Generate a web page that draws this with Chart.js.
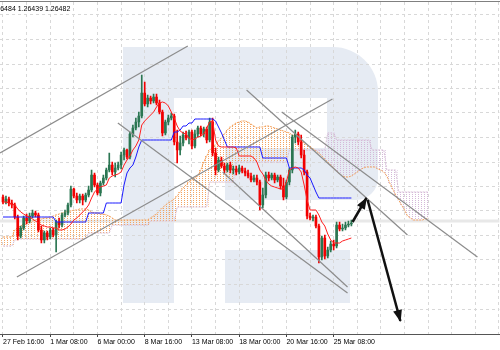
<!DOCTYPE html>
<html>
<head>
<meta charset="utf-8">
<script src="https://cdn.jsdelivr.net/npm/chart.js@4.4.0/dist/chart.umd.min.js"></script>
<style>
  html, body { margin: 0; padding: 0; background: #fff; }
</style>
</head>
<body>
<canvas id="chart" width="500" height="350"></canvas>
<script>
// H4 candles, index 0 = 27 Feb 16:00
const openP = [
  1.2674, 1.2669, 1.2672, 1.2668, 1.2666, 1.2654, 1.2635, 1.2643, 1.2653, 1.2650,
  1.2655, 1.2658, 1.2656, 1.2641, 1.2631, 1.2638, 1.2634, 1.2641, 1.2636, 1.2649,
  1.2646, 1.2656, 1.2658, 1.2666, 1.2682, 1.2675, 1.2671, 1.2675, 1.2671, 1.2676,
  1.2681, 1.2696, 1.2686, 1.2678, 1.2688, 1.2693, 1.2701, 1.2706, 1.2699, 1.2703,
  1.2706, 1.2716, 1.2721, 1.2714, 1.2737, 1.2743, 1.2749, 1.2755, 1.2778, 1.2767,
  1.2773, 1.2770, 1.2774, 1.2768, 1.2759, 1.2738, 1.2749, 1.2753, 1.2755, 1.2729,
  1.2721, 1.2728, 1.2736, 1.2733, 1.2739, 1.2725, 1.2737, 1.2743, 1.2737, 1.2742,
  1.2731, 1.2749, 1.2718, 1.2701, 1.2711, 1.2705, 1.2701, 1.2706, 1.2701, 1.2702,
  1.2699, 1.2703, 1.2700, 1.2698, 1.2695, 1.2691, 1.2693, 1.2689, 1.2666, 1.2676,
  1.2696, 1.2693, 1.2696, 1.2691, 1.2694, 1.2685, 1.2674, 1.2689, 1.2701, 1.2734,
  1.2737, 1.2729, 1.2716, 1.2699, 1.2655, 1.2653, 1.2654, 1.2645, 1.2614, 1.2633,
  1.2615, 1.2621, 1.2627, 1.2625, 1.2646, 1.2642, 1.2643, 1.2646, 1.2647
];
const highP = [
  1.2676, 1.2675, 1.2674, 1.2671, 1.2668, 1.2656, 1.2645, 1.2655, 1.2657, 1.2658,
  1.2661, 1.2660, 1.2658, 1.2645, 1.2640, 1.2640, 1.2643, 1.2643, 1.2651, 1.2653,
  1.2658, 1.2661, 1.2668, 1.2685, 1.2683, 1.2678, 1.2677, 1.2677, 1.2678, 1.2685,
  1.2701, 1.2698, 1.2688, 1.2690, 1.2696, 1.2703, 1.2718, 1.2709, 1.2708, 1.2709,
  1.2719, 1.2723, 1.2722, 1.2739, 1.2746, 1.2753, 1.2759, 1.2796, 1.2789, 1.2776,
  1.2775, 1.2777, 1.2777, 1.2771, 1.2761, 1.2751, 1.2756, 1.2758, 1.2757, 1.2741,
  1.2735, 1.2739, 1.2740, 1.2741, 1.2741, 1.2741, 1.2745, 1.2745, 1.2744, 1.2744,
  1.2753, 1.2753, 1.2723, 1.2714, 1.2714, 1.2708, 1.2708, 1.2709, 1.2705, 1.2705,
  1.2706, 1.2705, 1.2703, 1.2701, 1.2698, 1.2696, 1.2696, 1.2691, 1.2683, 1.2699,
  1.2699, 1.2698, 1.2698, 1.2696, 1.2696, 1.2693, 1.2691, 1.2703, 1.2736, 1.2741,
  1.2739, 1.2736, 1.2721, 1.2701, 1.2658, 1.2656, 1.2656, 1.2647, 1.2635, 1.2636,
  1.2624, 1.2630, 1.2631, 1.2649, 1.2649, 1.2647, 1.2649, 1.2650, 1.2651
];
const lowP = [
  1.2667, 1.2667, 1.2665, 1.2663, 1.2652, 1.2631, 1.2633, 1.2641, 1.2647, 1.2648,
  1.2653, 1.2654, 1.2639, 1.2628, 1.2628, 1.2631, 1.2632, 1.2634, 1.2619, 1.2643,
  1.2644, 1.2654, 1.2656, 1.2664, 1.2673, 1.2668, 1.2668, 1.2666, 1.2669, 1.2674,
  1.2679, 1.2684, 1.2676, 1.2675, 1.2686, 1.2691, 1.2699, 1.2696, 1.2694, 1.2701,
  1.2702, 1.2711, 1.2712, 1.2712, 1.2734, 1.2741, 1.2744, 1.2753, 1.2765, 1.2764,
  1.2767, 1.2768, 1.2766, 1.2757, 1.2735, 1.2736, 1.2746, 1.2751, 1.2726, 1.2708,
  1.2716, 1.2725, 1.2731, 1.2727, 1.2722, 1.2723, 1.2734, 1.2735, 1.2734, 1.2728,
  1.2729, 1.2715, 1.2696, 1.2699, 1.2703, 1.2698, 1.2699, 1.2698, 1.2697, 1.2696,
  1.2697, 1.2698, 1.2695, 1.2693, 1.2689, 1.2689, 1.2686, 1.2661, 1.2663, 1.2673,
  1.2690, 1.2691, 1.2688, 1.2689, 1.2682, 1.2671, 1.2672, 1.2686, 1.2698, 1.2728,
  1.2726, 1.2713, 1.2696, 1.2652, 1.2651, 1.2650, 1.2643, 1.2608, 1.2611, 1.2612,
  1.2613, 1.2619, 1.2621, 1.2623, 1.2640, 1.2640, 1.2641, 1.2644, 1.2645
];
const closeP = [
  1.2669, 1.2672, 1.2668, 1.2666, 1.2654, 1.2635, 1.2643, 1.2653, 1.2650, 1.2655,
  1.2658, 1.2656, 1.2641, 1.2631, 1.2638, 1.2634, 1.2641, 1.2636, 1.2649, 1.2646,
  1.2656, 1.2658, 1.2666, 1.2682, 1.2675, 1.2671, 1.2675, 1.2671, 1.2676, 1.2681,
  1.2696, 1.2686, 1.2678, 1.2688, 1.2693, 1.2701, 1.2706, 1.2699, 1.2703, 1.2706,
  1.2716, 1.2721, 1.2714, 1.2737, 1.2743, 1.2749, 1.2755, 1.2778, 1.2767, 1.2773,
  1.2770, 1.2774, 1.2768, 1.2759, 1.2738, 1.2749, 1.2753, 1.2755, 1.2729, 1.2721,
  1.2728, 1.2736, 1.2733, 1.2739, 1.2725, 1.2737, 1.2743, 1.2737, 1.2742, 1.2731,
  1.2749, 1.2718, 1.2701, 1.2711, 1.2705, 1.2701, 1.2706, 1.2701, 1.2702, 1.2699,
  1.2703, 1.2700, 1.2698, 1.2695, 1.2691, 1.2693, 1.2689, 1.2666, 1.2676, 1.2696,
  1.2693, 1.2696, 1.2691, 1.2694, 1.2685, 1.2674, 1.2689, 1.2701, 1.2734, 1.2737,
  1.2729, 1.2716, 1.2699, 1.2655, 1.2653, 1.2654, 1.2645, 1.2614, 1.2633, 1.2615,
  1.2621, 1.2627, 1.2625, 1.2646, 1.2642, 1.2643, 1.2646, 1.2647, 1.2648
];

// Ichimoku lines (Tenkan red, Kijun blue)
const tenkan = [
  1.2669, 1.2669, 1.2668, 1.2667, 1.2666, 1.2662, 1.2659, 1.2657, 1.2655, 1.2654,
  1.2652, 1.2650, 1.2648, 1.2646, 1.2645, 1.2644, 1.2644, 1.2643, 1.2643, 1.2641,
  1.2641, 1.2642, 1.2644, 1.2647, 1.2651, 1.2653, 1.2656, 1.2659, 1.2662, 1.2666,
  1.2673, 1.2679, 1.2682, 1.2684, 1.2685, 1.2686, 1.2693, 1.2695, 1.2696, 1.2697,
  1.2699, 1.2706, 1.2711, 1.2715, 1.2721, 1.2725, 1.2731, 1.2746, 1.2750, 1.2753,
  1.2756, 1.2759, 1.2764, 1.2768, 1.2769, 1.2768, 1.2765, 1.2759, 1.2753, 1.2745,
  1.2740, 1.2738, 1.2737, 1.2733, 1.2731, 1.2732, 1.2734, 1.2735, 1.2737, 1.2743,
  1.2749, 1.2750, 1.2731, 1.2725, 1.2724, 1.2724, 1.2724, 1.2724, 1.2724, 1.2723,
  1.2715, 1.2715, 1.2715, 1.2715, 1.2715, 1.2713, 1.2709, 1.2701, 1.2697, 1.2691,
  1.2687, 1.2685, 1.2684, 1.2683, 1.2682, 1.2682, 1.2689, 1.2701, 1.2703, 1.2704,
  1.2703, 1.2699, 1.2686, 1.2671, 1.2661, 1.2661, 1.2661, 1.2656, 1.2649, 1.2645,
  1.2637, 1.2631, 1.2628, 1.2628, 1.2628, 1.2630, 1.2631, 1.2632, 1.2633
];
const kijun = [
  1.2654, 1.2654, 1.2654, 1.2654, 1.2654, 1.2654, 1.2654, 1.2654, 1.2654, 1.2654,
  1.2654, 1.2654, 1.2654, 1.2654, 1.2654, 1.2654, 1.2654, 1.2654, 1.2649, 1.2649,
  1.2649, 1.2649, 1.2649, 1.2649, 1.2649, 1.2649, 1.2649, 1.2649, 1.2649, 1.2658,
  1.2658, 1.2658, 1.2658, 1.2658, 1.2658, 1.2668, 1.2668, 1.2668, 1.2668, 1.2668,
  1.2668, 1.2686, 1.2698, 1.2703, 1.2706, 1.2714, 1.2724, 1.2731, 1.2731, 1.2731,
  1.2731, 1.2731, 1.2731, 1.2731, 1.2731, 1.2731, 1.2731, 1.2731, 1.2739, 1.2739,
  1.2741, 1.2745, 1.2745, 1.2748, 1.2748, 1.2752, 1.2752, 1.2752, 1.2752, 1.2752,
  1.2752, 1.2752, 1.2750, 1.2744, 1.2738, 1.2731, 1.2724, 1.2724, 1.2724, 1.2724,
  1.2724, 1.2724, 1.2724, 1.2724, 1.2724, 1.2724, 1.2724, 1.2724, 1.2713, 1.2713,
  1.2713, 1.2713, 1.2713, 1.2713, 1.2713, 1.2713, 1.2713, 1.2703, 1.2703, 1.2703,
  1.2703, 1.2703, 1.2701, 1.2696, 1.2693, 1.2686, 1.2679, 1.2673, 1.2673, 1.2673,
  1.2673, 1.2673, 1.2673, 1.2673, 1.2673, 1.2673, 1.2673, 1.2673, 1.2673
];
// Senkou spans, already shifted 26 bars forward
const spanA = [
  1.2634, 1.2634, 1.2634, 1.2634, 1.2641, 1.2643, 1.2645, 1.2647, 1.2648, 1.2649,
  1.2650, 1.2651, 1.2652, 1.2652, 1.2653, 1.2653, 1.2654, 1.2655, 1.2656, 1.2657,
  1.2658, 1.2659, 1.2660, 1.2660, 1.2661, 1.2661, 1.2662, 1.2662, 1.2662, 1.2661,
  1.2659, 1.2658, 1.2658, 1.2657, 1.2657, 1.2656, 1.2655, 1.2653, 1.2651, 1.2651,
  1.2651, 1.2651, 1.2651, 1.2651, 1.2651, 1.2651, 1.2651, 1.2651, 1.2651, 1.2651,
  1.2653, 1.2655, 1.2657, 1.2660, 1.2663, 1.2666, 1.2668, 1.2670, 1.2672, 1.2675,
  1.2679, 1.2683, 1.2686, 1.2689, 1.2691, 1.2693, 1.2695, 1.2701, 1.2709, 1.2715,
  1.2721, 1.2724, 1.2726, 1.2730, 1.2733, 1.2737, 1.2741, 1.2744, 1.2746, 1.2748,
  1.2749, 1.2750, 1.2750, 1.2749, 1.2747, 1.2745, 1.2743, 1.2744, 1.2744, 1.2745,
  1.2745, 1.2744, 1.2743, 1.2742, 1.2741, 1.2740, 1.2739, 1.2738, 1.2736, 1.2734,
  1.2731, 1.2730, 1.2728, 1.2726, 1.2725, 1.2722, 1.2720, 1.2718, 1.2715, 1.2712,
  1.2709, 1.2706, 1.2703, 1.2700, 1.2697, 1.2695, 1.2694, 1.2694, 1.2695, 1.2697,
  1.2699, 1.2701, 1.2703, 1.2704, 1.2704, 1.2704, 1.2704, 1.2702, 1.2701, 1.2699,
  1.2695, 1.2688, 1.2682, 1.2676, 1.2671, 1.2666, 1.2661, 1.2655, 1.2653, 1.2651,
  1.2651, 1.2651, 1.2651, 1.2652, 1.2653
];
const spanB = [
  1.2625, 1.2625, 1.2625, 1.2625, 1.2631, 1.2632, 1.2632, 1.2632, 1.2632, 1.2632,
  1.2632, 1.2632, 1.2632, 1.2632, 1.2632, 1.2632, 1.2632, 1.2632, 1.2632, 1.2632,
  1.2632, 1.2632, 1.2632, 1.2632, 1.2632, 1.2632, 1.2632, 1.2632, 1.2632, 1.2638,
  1.2638, 1.2638, 1.2638, 1.2638, 1.2638, 1.2638, 1.2638, 1.2646, 1.2646, 1.2646,
  1.2646, 1.2646, 1.2646, 1.2646, 1.2646, 1.2646, 1.2646, 1.2646, 1.2646, 1.2646,
  1.2650, 1.2650, 1.2650, 1.2650, 1.2650, 1.2650, 1.2650, 1.2650, 1.2650, 1.2664,
  1.2664, 1.2664, 1.2664, 1.2664, 1.2664, 1.2664, 1.2664, 1.2664, 1.2664, 1.2664,
  1.2689, 1.2689, 1.2689, 1.2689, 1.2689, 1.2689, 1.2689, 1.2689, 1.2689, 1.2709,
  1.2709, 1.2709, 1.2709, 1.2709, 1.2709, 1.2709, 1.2709, 1.2709, 1.2709, 1.2709,
  1.2709, 1.2709, 1.2709, 1.2709, 1.2709, 1.2709, 1.2709, 1.2721, 1.2721, 1.2721,
  1.2721, 1.2721, 1.2721, 1.2721, 1.2721, 1.2721, 1.2721, 1.2721, 1.2721, 1.2721,
  1.2738, 1.2738, 1.2738, 1.2731, 1.2731, 1.2731, 1.2731, 1.2731, 1.2731, 1.2731,
  1.2731, 1.2731, 1.2731, 1.2731, 1.2731, 1.2721, 1.2721, 1.2721, 1.2721, 1.2721,
  1.2701, 1.2701, 1.2701, 1.2701, 1.2679, 1.2679, 1.2679, 1.2679, 1.2679, 1.2679,
  1.2679, 1.2679, 1.2679, 1.2679, 1.2679
];

// axis ticks (bar index) and labels
const tickIdx = [0, 16, 32, 48, 64, 80, 96, 112];
const tickLabels = ['27 Feb 16:00', '1 Mar 08:00', '6 Mar 00:00', '8 Mar 16:00',
  '13 Mar 08:00', '18 Mar 00:00', '20 Mar 16:00', '25 Mar 08:00'];
const gridIdx = [0, 8, 16, 24, 32, 40, 48, 56, 64, 72, 80, 88, 96, 104, 112, 120, 128, 136, 144, 152, 160, 168];
const gridPrices = [1.2856, 1.28315, 1.2807, 1.27825, 1.2758, 1.27335, 1.2709, 1.26845,
  1.2660, 1.26355, 1.2611, 1.25865, 1.2562];

// drawn objects: [bar1, price1, bar2, price2]
const trendLines = [
  [-1.0, 1.2718, 62.6, 1.2825],
  [4.7, 1.2594, 111.6, 1.2772],
  [38.9, 1.2748, 116.7, 1.2578],
  [74.4, 1.2699, 116.7, 1.2584],
  [82.5, 1.2781, 137.0, 1.2636],
  [94.4, 1.2759, 160.7, 1.2614]
];
const arrows = [
  [118.4, 1.2649, 123.1, 1.2673],
  [123.5, 1.2671, 134.6, 1.2550]
];
const bidPrice = 1.2650;
const headerText = '1.26484 1.26439 1.26482';

const UP = '#2b7652';
const DOWN = '#f20000';
const FONT = 'Liberation Sans';

function dotPattern(color) {
  const c = document.createElement('canvas');
  c.width = 3;
  c.height = 2;
  const g = c.getContext('2d');
  g.fillStyle = color;
  g.fillRect(1, 0, 1, 1);
  return g.createPattern(c, 'repeat');
}
const orangeDots = dotPattern('rgb(244,164,96)');
const thistleDots = dotPattern('rgb(212,184,216)');

const candleColor = ctx => {
  const i = ctx.dataIndex;
  return closeP[i] >= openP[i] ? UP : DOWN;
};

function series(arr) {
  return arr.map((v, i) => ({ x: i, y: v }));
}

const datasets = [];

datasets.push({
  type: 'line', data: [{ x: -2, y: bidPrice }, { x: 170, y: bidPrice }],
  borderColor: '#e8e8e8', borderWidth: 3, pointRadius: 0, order: 20
});
datasets.push({
  type: 'bar',
  data: spanA.map((a, i) => ({ x: i, y: [a, spanB[i]] })),
  backgroundColor: ctx => (spanA[ctx.dataIndex] >= spanB[ctx.dataIndex] ? orangeDots : thistleDots),
  barThickness: 3, grouped: false, borderWidth: 0, order: 16
});
datasets.push({
  type: 'line', data: series(spanA), borderColor: '#f4a460', borderWidth: 1,
  borderDash: [2, 1], pointRadius: 0, order: 15
});
datasets.push({
  type: 'line', data: series(spanB), borderColor: '#d8bfd8', borderWidth: 1,
  borderDash: [2, 1], pointRadius: 0, order: 15
});
// candles: wick then body
datasets.push({
  type: 'bar',
  data: lowP.map((l, i) => ({ x: i, y: [l, highP[i]] })),
  backgroundColor: candleColor, barThickness: 1, grouped: false, borderWidth: 0, order: 9
});
datasets.push({
  type: 'bar',
  data: openP.map((o, i) => ({ x: i, y: [o, closeP[i]] })),
  backgroundColor: candleColor, barThickness: 2, grouped: false, borderWidth: 0, order: 8
});
datasets.push({
  type: 'line', data: series(tenkan), borderColor: '#ff2020', borderWidth: 1, pointRadius: 0, order: 6
});
datasets.push({
  type: 'line', data: series(kijun), borderColor: '#1a1aff', borderWidth: 1, pointRadius: 0, order: 6
});
trendLines.forEach(t => {
  datasets.push({
    type: 'line', data: [{ x: t[0], y: t[1] }, { x: t[2], y: t[3] }],
    borderColor: '#8c8c8c', borderWidth: 1.2, pointRadius: 0, order: 3
  });
});
arrows.forEach(a => {
  datasets.push({
    type: 'line', data: [{ x: a[0], y: a[1] }, { x: a[2], y: a[3] }],
    borderColor: '#111', borderWidth: 2.5, pointRadius: 0, order: 2
  });
});

// RoboForex style "R" behind the chart
const watermark = {
  id: 'watermark',
  beforeDraw(chart) {
    const ctx = chart.ctx;
    ctx.save();
    ctx.fillStyle = '#fff';
    ctx.fillRect(0, 0, chart.width, chart.height);
    ctx.fillStyle = '#e6ebf3';
    ctx.fillRect(123, 47, 51, 256);
    ctx.beginPath();
    ctx.moveTo(174, 47);
    ctx.lineTo(333, 47);
    ctx.arcTo(378, 47, 378, 92, 45);
    ctx.lineTo(378, 178);
    ctx.arcTo(378, 200, 356, 200, 22);
    ctx.lineTo(225, 200);
    ctx.lineTo(225, 148);
    ctx.lineTo(327, 148);
    ctx.lineTo(327, 98);
    ctx.lineTo(174, 98);
    ctx.closePath();
    ctx.fill();
    ctx.fillRect(225, 250, 125, 53);
    ctx.restore();
  }
};

const extras = {
  id: 'extras',
  afterDatasetsDraw(chart) {
    const { ctx, scales: { x, y } } = chart;
    ctx.save();
    ctx.fillStyle = '#111';
    arrows.forEach(a => {
      const x1 = x.getPixelForValue(a[0]), y1 = y.getPixelForValue(a[1]);
      const x2 = x.getPixelForValue(a[2]), y2 = y.getPixelForValue(a[3]);
      const ang = Math.atan2(y2 - y1, x2 - x1);
      const len = 11, half = 4.5;
      const bx = x2 - len * Math.cos(ang), by = y2 - len * Math.sin(ang);
      ctx.beginPath();
      ctx.moveTo(x2 + Math.cos(ang), y2 + Math.sin(ang));
      ctx.lineTo(bx + half * Math.sin(ang), by - half * Math.cos(ang));
      ctx.lineTo(bx - half * Math.sin(ang), by + half * Math.cos(ang));
      ctx.closePath();
      ctx.fill();
    });
    ctx.restore();
  },
  afterDraw(chart) {
    const ctx = chart.ctx;
    ctx.save();
    ctx.strokeStyle = '#808080';
    ctx.lineWidth = 1;
    ctx.beginPath();
    ctx.moveTo(0, 1.5);
    ctx.lineTo(chart.width, 1.5);
    ctx.stroke();
    ctx.fillStyle = '#000';
    ctx.font = '7px "' + FONT + '"';
    ctx.textBaseline = 'alphabetic';
    ctx.fillText(headerText, -9.5, 11);
    ctx.restore();
  }
};

new Chart(document.getElementById('chart'), {
  type: 'bar',
  data: { datasets: datasets },
  options: {
    responsive: false,
    animation: false,
    events: [],
    layout: { padding: { top: 2, left: 0, right: 0, bottom: 0 } },
    plugins: { legend: { display: false }, tooltip: { enabled: false } },
    scales: {
      x: {
        type: 'linear',
        min: -1.015,
        max: 168.14,
        offset: false,
        afterBuildTicks: s => { s.ticks = gridIdx.map(v => ({ value: v })); },
        afterFit: s => { s.height = 16; },
        ticks: {
          autoSkip: false,
          maxRotation: 0,
          align: 'start',
          padding: 1,
          color: '#000',
          font: { family: FONT, size: 7 },
          callback: v => {
            const k = tickIdx.indexOf(v);
            return k >= 0 ? tickLabels[k] : '';
          }
        },
        grid: {
          offset: false,
          color: '#d8d8d8',
          lineWidth: 1,
          tickLength: 3,
          tickColor: c => (c.tick && tickIdx.includes(c.tick.value) ? '#444' : 'rgba(0,0,0,0)')
        },
        border: { display: true, color: '#555', width: 1, dash: [3, 3] }
      },
      y: {
        type: 'linear',
        min: 1.2537,
        max: 1.2869,
        afterBuildTicks: s => { s.ticks = gridPrices.map(v => ({ value: v })); },
        afterFit: s => { s.width = 0; },
        ticks: { display: false },
        grid: { color: '#d8d8d8', lineWidth: 1, drawTicks: false },
        border: { display: false, dash: [3, 3] }
      }
    }
  },
  plugins: [watermark, extras]
});
</script>
</body>
</html>
